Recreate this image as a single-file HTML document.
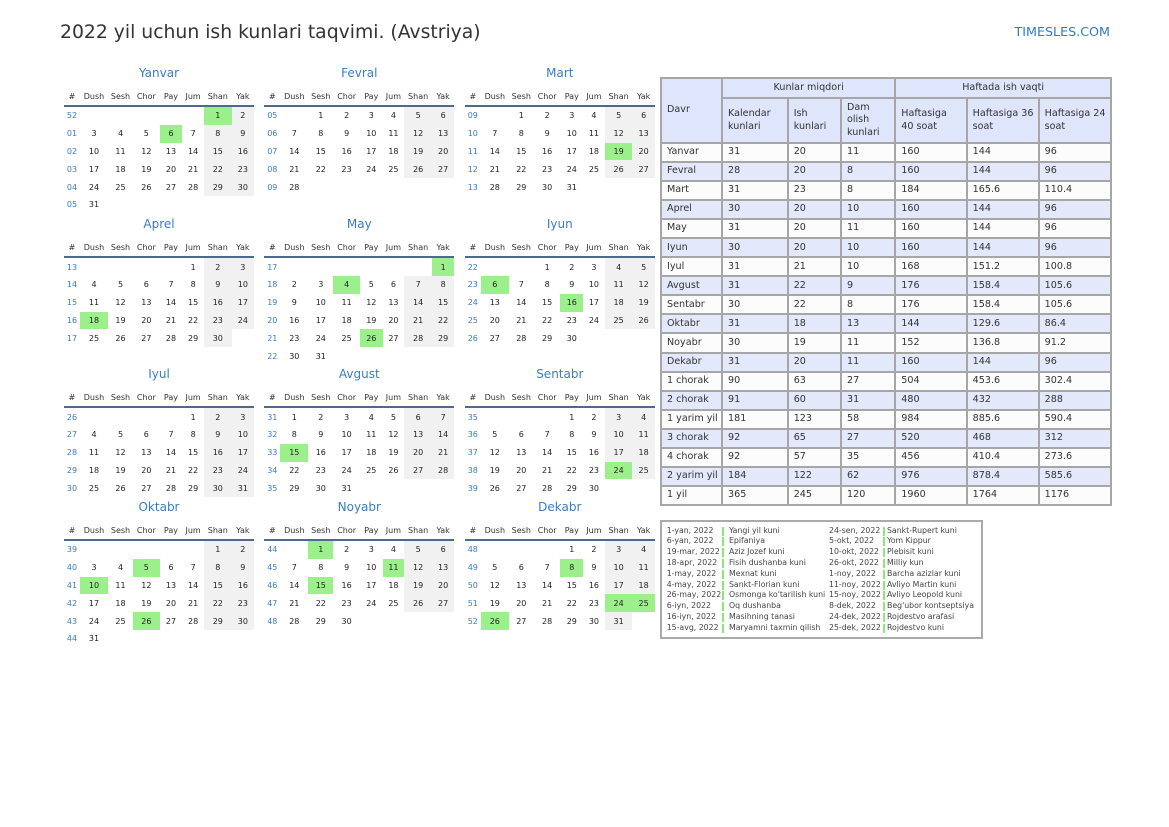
<!DOCTYPE html>
<html><head><meta charset="utf-8">
<style>
*{margin:0;padding:0;box-sizing:border-box}
html,body{width:1169px;height:827px;background:#fff;overflow:hidden}
body{position:relative;font-family:"DejaVu Sans","Liberation Sans",sans-serif;color:#333}
.title{position:absolute;left:60px;top:22px;font-size:18.8px;line-height:22px;color:#333;white-space:nowrap}
.brand{position:absolute;right:59px;top:24px;font-size:12.7px;line-height:15px;color:#2f7ac9;white-space:nowrap}
.m{position:absolute;width:190px}
.m .t{height:20px;line-height:20px;text-align:center;font-size:12px;color:#3a7cc6;margin-bottom:5px}
.m table{border-collapse:separate;border-spacing:0;table-layout:fixed;width:190px}
.m th{height:19px;font-size:8px;font-weight:normal;color:#333;border-bottom:2px solid #4b6991;padding:0;text-align:center;vertical-align:middle;white-space:nowrap}
.m tbody tr{height:17.8px}
.m td{padding:0;font-size:8px;text-align:center;vertical-align:middle;color:#222}
.m td.w{color:#3a7cc6}
.m td.s{background:#f1f1f1}
.m td.h{background:#9bf08c}
.dt{position:absolute;left:660px;top:77px;width:450px;border-collapse:collapse;table-layout:fixed;font-size:9.6px;color:#333}
.dt td,.dt th{border:2px solid #a6a6a6;padding:0 0 0 5px;text-align:left;vertical-align:middle;font-weight:normal;line-height:12.5px;white-space:nowrap}
.dt th{background:#dfe5fb}
.dt th.c{text-align:center;padding:0}
.dt tr.b td{background:#e3e8fb}
.dt tr.a td{background:#fcfcfc}
.dt tbody tr{height:19.05px}
.hol{position:absolute;left:660px;top:520px;width:323px;height:119px;border:2px solid #aaa}
.hl{position:absolute;left:666.7px;top:525.6px;width:310px;font-size:7.8px;color:#444}
.hl .r{position:relative;height:10.8px;line-height:10.8px;white-space:nowrap}
.hl .r span{position:absolute;top:0}
.hl .d1{left:0}.hl .n1{left:62.3px}.hl .d2{left:162.3px}.hl .n2{left:220.3px}
.hl .b1,.hl .b2{top:1px !important;width:2px;height:9px;background:#8be87b}
.hl .b1{left:55px}.hl .b2{left:216px}
</style></head><body>
<div class="title">2022 yil uchun ish kunlari taqvimi. (Avstriya)</div>
<div class="brand">TIMESLES.COM</div>

<!-- Row 1 -->
<div class="m" style="left:64px;top:63px"><div class="t">Yanvar</div><table><colgroup><col style="width:16px"><col style="width:28px"><col style="width:25px"><col style="width:26.7px"><col style="width:22.6px"><col style="width:21.7px"><col style="width:27.7px"><col style="width:22.3px"></colgroup>
<thead><tr><th>#</th><th>Dush</th><th>Sesh</th><th>Chor</th><th>Pay</th><th>Jum</th><th>Shan</th><th>Yak</th></tr></thead><tbody>
<tr><td class="w">52</td><td></td><td></td><td></td><td></td><td></td><td class="h">1</td><td class="s">2</td></tr>
<tr><td class="w">01</td><td>3</td><td>4</td><td>5</td><td class="h">6</td><td>7</td><td class="s">8</td><td class="s">9</td></tr>
<tr><td class="w">02</td><td>10</td><td>11</td><td>12</td><td>13</td><td>14</td><td class="s">15</td><td class="s">16</td></tr>
<tr><td class="w">03</td><td>17</td><td>18</td><td>19</td><td>20</td><td>21</td><td class="s">22</td><td class="s">23</td></tr>
<tr><td class="w">04</td><td>24</td><td>25</td><td>26</td><td>27</td><td>28</td><td class="s">29</td><td class="s">30</td></tr>
<tr><td class="w">05</td><td>31</td><td></td><td></td><td></td><td></td><td></td><td></td></tr>
</tbody></table></div>

<div class="m" style="left:264.3px;top:63px"><div class="t">Fevral</div><table><colgroup><col style="width:16px"><col style="width:28px"><col style="width:25px"><col style="width:26.7px"><col style="width:22.6px"><col style="width:21.7px"><col style="width:27.7px"><col style="width:22.3px"></colgroup>
<thead><tr><th>#</th><th>Dush</th><th>Sesh</th><th>Chor</th><th>Pay</th><th>Jum</th><th>Shan</th><th>Yak</th></tr></thead><tbody>
<tr><td class="w">05</td><td></td><td>1</td><td>2</td><td>3</td><td>4</td><td class="s">5</td><td class="s">6</td></tr>
<tr><td class="w">06</td><td>7</td><td>8</td><td>9</td><td>10</td><td>11</td><td class="s">12</td><td class="s">13</td></tr>
<tr><td class="w">07</td><td>14</td><td>15</td><td>16</td><td>17</td><td>18</td><td class="s">19</td><td class="s">20</td></tr>
<tr><td class="w">08</td><td>21</td><td>22</td><td>23</td><td>24</td><td>25</td><td class="s">26</td><td class="s">27</td></tr>
<tr><td class="w">09</td><td>28</td><td></td><td></td><td></td><td></td><td></td><td></td></tr>
</tbody></table></div>

<div class="m" style="left:464.8px;top:63px"><div class="t">Mart</div><table><colgroup><col style="width:16px"><col style="width:28px"><col style="width:25px"><col style="width:26.7px"><col style="width:22.6px"><col style="width:21.7px"><col style="width:27.7px"><col style="width:22.3px"></colgroup>
<thead><tr><th>#</th><th>Dush</th><th>Sesh</th><th>Chor</th><th>Pay</th><th>Jum</th><th>Shan</th><th>Yak</th></tr></thead><tbody>
<tr><td class="w">09</td><td></td><td>1</td><td>2</td><td>3</td><td>4</td><td class="s">5</td><td class="s">6</td></tr>
<tr><td class="w">10</td><td>7</td><td>8</td><td>9</td><td>10</td><td>11</td><td class="s">12</td><td class="s">13</td></tr>
<tr><td class="w">11</td><td>14</td><td>15</td><td>16</td><td>17</td><td>18</td><td class="h">19</td><td class="s">20</td></tr>
<tr><td class="w">12</td><td>21</td><td>22</td><td>23</td><td>24</td><td>25</td><td class="s">26</td><td class="s">27</td></tr>
<tr><td class="w">13</td><td>28</td><td>29</td><td>30</td><td>31</td><td></td><td></td><td></td></tr>
</tbody></table></div>

<!-- Row 2 -->
<div class="m" style="left:64px;top:214.3px"><div class="t">Aprel</div><table><colgroup><col style="width:16px"><col style="width:28px"><col style="width:25px"><col style="width:26.7px"><col style="width:22.6px"><col style="width:21.7px"><col style="width:27.7px"><col style="width:22.3px"></colgroup>
<thead><tr><th>#</th><th>Dush</th><th>Sesh</th><th>Chor</th><th>Pay</th><th>Jum</th><th>Shan</th><th>Yak</th></tr></thead><tbody>
<tr><td class="w">13</td><td></td><td></td><td></td><td></td><td>1</td><td class="s">2</td><td class="s">3</td></tr>
<tr><td class="w">14</td><td>4</td><td>5</td><td>6</td><td>7</td><td>8</td><td class="s">9</td><td class="s">10</td></tr>
<tr><td class="w">15</td><td>11</td><td>12</td><td>13</td><td>14</td><td>15</td><td class="s">16</td><td class="s">17</td></tr>
<tr><td class="w">16</td><td class="h">18</td><td>19</td><td>20</td><td>21</td><td>22</td><td class="s">23</td><td class="s">24</td></tr>
<tr><td class="w">17</td><td>25</td><td>26</td><td>27</td><td>28</td><td>29</td><td class="s">30</td><td></td></tr>
</tbody></table></div>

<div class="m" style="left:264.3px;top:214.3px"><div class="t">May</div><table><colgroup><col style="width:16px"><col style="width:28px"><col style="width:25px"><col style="width:26.7px"><col style="width:22.6px"><col style="width:21.7px"><col style="width:27.7px"><col style="width:22.3px"></colgroup>
<thead><tr><th>#</th><th>Dush</th><th>Sesh</th><th>Chor</th><th>Pay</th><th>Jum</th><th>Shan</th><th>Yak</th></tr></thead><tbody>
<tr><td class="w">17</td><td></td><td></td><td></td><td></td><td></td><td></td><td class="h">1</td></tr>
<tr><td class="w">18</td><td>2</td><td>3</td><td class="h">4</td><td>5</td><td>6</td><td class="s">7</td><td class="s">8</td></tr>
<tr><td class="w">19</td><td>9</td><td>10</td><td>11</td><td>12</td><td>13</td><td class="s">14</td><td class="s">15</td></tr>
<tr><td class="w">20</td><td>16</td><td>17</td><td>18</td><td>19</td><td>20</td><td class="s">21</td><td class="s">22</td></tr>
<tr><td class="w">21</td><td>23</td><td>24</td><td>25</td><td class="h">26</td><td>27</td><td class="s">28</td><td class="s">29</td></tr>
<tr><td class="w">22</td><td>30</td><td>31</td><td></td><td></td><td></td><td></td><td></td></tr>
</tbody></table></div>

<div class="m" style="left:464.8px;top:214.3px"><div class="t">Iyun</div><table><colgroup><col style="width:16px"><col style="width:28px"><col style="width:25px"><col style="width:26.7px"><col style="width:22.6px"><col style="width:21.7px"><col style="width:27.7px"><col style="width:22.3px"></colgroup>
<thead><tr><th>#</th><th>Dush</th><th>Sesh</th><th>Chor</th><th>Pay</th><th>Jum</th><th>Shan</th><th>Yak</th></tr></thead><tbody>
<tr><td class="w">22</td><td></td><td></td><td>1</td><td>2</td><td>3</td><td class="s">4</td><td class="s">5</td></tr>
<tr><td class="w">23</td><td class="h">6</td><td>7</td><td>8</td><td>9</td><td>10</td><td class="s">11</td><td class="s">12</td></tr>
<tr><td class="w">24</td><td>13</td><td>14</td><td>15</td><td class="h">16</td><td>17</td><td class="s">18</td><td class="s">19</td></tr>
<tr><td class="w">25</td><td>20</td><td>21</td><td>22</td><td>23</td><td>24</td><td class="s">25</td><td class="s">26</td></tr>
<tr><td class="w">26</td><td>27</td><td>28</td><td>29</td><td>30</td><td></td><td></td><td></td></tr>
</tbody></table></div>

<!-- Row 3 -->
<div class="m" style="left:64px;top:364.3px"><div class="t">Iyul</div><table><colgroup><col style="width:16px"><col style="width:28px"><col style="width:25px"><col style="width:26.7px"><col style="width:22.6px"><col style="width:21.7px"><col style="width:27.7px"><col style="width:22.3px"></colgroup>
<thead><tr><th>#</th><th>Dush</th><th>Sesh</th><th>Chor</th><th>Pay</th><th>Jum</th><th>Shan</th><th>Yak</th></tr></thead><tbody>
<tr><td class="w">26</td><td></td><td></td><td></td><td></td><td>1</td><td class="s">2</td><td class="s">3</td></tr>
<tr><td class="w">27</td><td>4</td><td>5</td><td>6</td><td>7</td><td>8</td><td class="s">9</td><td class="s">10</td></tr>
<tr><td class="w">28</td><td>11</td><td>12</td><td>13</td><td>14</td><td>15</td><td class="s">16</td><td class="s">17</td></tr>
<tr><td class="w">29</td><td>18</td><td>19</td><td>20</td><td>21</td><td>22</td><td class="s">23</td><td class="s">24</td></tr>
<tr><td class="w">30</td><td>25</td><td>26</td><td>27</td><td>28</td><td>29</td><td class="s">30</td><td class="s">31</td></tr>
</tbody></table></div>

<div class="m" style="left:264.3px;top:364.3px"><div class="t">Avgust</div><table><colgroup><col style="width:16px"><col style="width:28px"><col style="width:25px"><col style="width:26.7px"><col style="width:22.6px"><col style="width:21.7px"><col style="width:27.7px"><col style="width:22.3px"></colgroup>
<thead><tr><th>#</th><th>Dush</th><th>Sesh</th><th>Chor</th><th>Pay</th><th>Jum</th><th>Shan</th><th>Yak</th></tr></thead><tbody>
<tr><td class="w">31</td><td>1</td><td>2</td><td>3</td><td>4</td><td>5</td><td class="s">6</td><td class="s">7</td></tr>
<tr><td class="w">32</td><td>8</td><td>9</td><td>10</td><td>11</td><td>12</td><td class="s">13</td><td class="s">14</td></tr>
<tr><td class="w">33</td><td class="h">15</td><td>16</td><td>17</td><td>18</td><td>19</td><td class="s">20</td><td class="s">21</td></tr>
<tr><td class="w">34</td><td>22</td><td>23</td><td>24</td><td>25</td><td>26</td><td class="s">27</td><td class="s">28</td></tr>
<tr><td class="w">35</td><td>29</td><td>30</td><td>31</td><td></td><td></td><td></td><td></td></tr>
</tbody></table></div>

<div class="m" style="left:464.8px;top:364.3px"><div class="t">Sentabr</div><table><colgroup><col style="width:16px"><col style="width:28px"><col style="width:25px"><col style="width:26.7px"><col style="width:22.6px"><col style="width:21.7px"><col style="width:27.7px"><col style="width:22.3px"></colgroup>
<thead><tr><th>#</th><th>Dush</th><th>Sesh</th><th>Chor</th><th>Pay</th><th>Jum</th><th>Shan</th><th>Yak</th></tr></thead><tbody>
<tr><td class="w">35</td><td></td><td></td><td></td><td>1</td><td>2</td><td class="s">3</td><td class="s">4</td></tr>
<tr><td class="w">36</td><td>5</td><td>6</td><td>7</td><td>8</td><td>9</td><td class="s">10</td><td class="s">11</td></tr>
<tr><td class="w">37</td><td>12</td><td>13</td><td>14</td><td>15</td><td>16</td><td class="s">17</td><td class="s">18</td></tr>
<tr><td class="w">38</td><td>19</td><td>20</td><td>21</td><td>22</td><td>23</td><td class="h">24</td><td class="s">25</td></tr>
<tr><td class="w">39</td><td>26</td><td>27</td><td>28</td><td>29</td><td>30</td><td></td><td></td></tr>
</tbody></table></div>

<!-- Row 4 -->
<div class="m" style="left:64px;top:497px"><div class="t">Oktabr</div><table><colgroup><col style="width:16px"><col style="width:28px"><col style="width:25px"><col style="width:26.7px"><col style="width:22.6px"><col style="width:21.7px"><col style="width:27.7px"><col style="width:22.3px"></colgroup>
<thead><tr><th>#</th><th>Dush</th><th>Sesh</th><th>Chor</th><th>Pay</th><th>Jum</th><th>Shan</th><th>Yak</th></tr></thead><tbody>
<tr><td class="w">39</td><td></td><td></td><td></td><td></td><td></td><td class="s">1</td><td class="s">2</td></tr>
<tr><td class="w">40</td><td>3</td><td>4</td><td class="h">5</td><td>6</td><td>7</td><td class="s">8</td><td class="s">9</td></tr>
<tr><td class="w">41</td><td class="h">10</td><td>11</td><td>12</td><td>13</td><td>14</td><td class="s">15</td><td class="s">16</td></tr>
<tr><td class="w">42</td><td>17</td><td>18</td><td>19</td><td>20</td><td>21</td><td class="s">22</td><td class="s">23</td></tr>
<tr><td class="w">43</td><td>24</td><td>25</td><td class="h">26</td><td>27</td><td>28</td><td class="s">29</td><td class="s">30</td></tr>
<tr><td class="w">44</td><td>31</td><td></td><td></td><td></td><td></td><td></td><td></td></tr>
</tbody></table></div>

<div class="m" style="left:264.3px;top:497px"><div class="t">Noyabr</div><table><colgroup><col style="width:16px"><col style="width:28px"><col style="width:25px"><col style="width:26.7px"><col style="width:22.6px"><col style="width:21.7px"><col style="width:27.7px"><col style="width:22.3px"></colgroup>
<thead><tr><th>#</th><th>Dush</th><th>Sesh</th><th>Chor</th><th>Pay</th><th>Jum</th><th>Shan</th><th>Yak</th></tr></thead><tbody>
<tr><td class="w">44</td><td></td><td class="h">1</td><td>2</td><td>3</td><td>4</td><td class="s">5</td><td class="s">6</td></tr>
<tr><td class="w">45</td><td>7</td><td>8</td><td>9</td><td>10</td><td class="h">11</td><td class="s">12</td><td class="s">13</td></tr>
<tr><td class="w">46</td><td>14</td><td class="h">15</td><td>16</td><td>17</td><td>18</td><td class="s">19</td><td class="s">20</td></tr>
<tr><td class="w">47</td><td>21</td><td>22</td><td>23</td><td>24</td><td>25</td><td class="s">26</td><td class="s">27</td></tr>
<tr><td class="w">48</td><td>28</td><td>29</td><td>30</td><td></td><td></td><td></td><td></td></tr>
</tbody></table></div>

<div class="m" style="left:464.8px;top:497px"><div class="t">Dekabr</div><table><colgroup><col style="width:16px"><col style="width:28px"><col style="width:25px"><col style="width:26.7px"><col style="width:22.6px"><col style="width:21.7px"><col style="width:27.7px"><col style="width:22.3px"></colgroup>
<thead><tr><th>#</th><th>Dush</th><th>Sesh</th><th>Chor</th><th>Pay</th><th>Jum</th><th>Shan</th><th>Yak</th></tr></thead><tbody>
<tr><td class="w">48</td><td></td><td></td><td></td><td>1</td><td>2</td><td class="s">3</td><td class="s">4</td></tr>
<tr><td class="w">49</td><td>5</td><td>6</td><td>7</td><td class="h">8</td><td>9</td><td class="s">10</td><td class="s">11</td></tr>
<tr><td class="w">50</td><td>12</td><td>13</td><td>14</td><td>15</td><td>16</td><td class="s">17</td><td class="s">18</td></tr>
<tr><td class="w">51</td><td>19</td><td>20</td><td>21</td><td>22</td><td>23</td><td class="h">24</td><td class="h">25</td></tr>
<tr><td class="w">52</td><td class="h">26</td><td>27</td><td>28</td><td>29</td><td>30</td><td class="s">31</td><td></td></tr>
</tbody></table></div>

<!-- Data table -->
<table class="dt">
<colgroup><col style="width:61px"><col style="width:65.7px"><col style="width:53.3px"><col style="width:54.3px"><col style="width:71.4px"><col style="width:72px"><col style="width:72.3px"></colgroup>
<thead>
<tr style="height:20px"><th rowspan="2">Davr</th><th class="c" colspan="3">Kunlar miqdori</th><th class="c" colspan="3">Haftada ish vaqti</th></tr>
<tr style="height:45px"><th>Kalendar<br>kunlari</th><th>Ish<br>kunlari</th><th>Dam<br>olish<br>kunlari</th><th>Haftasiga<br>40 soat</th><th>Haftasiga 36<br>soat</th><th>Haftasiga 24<br>soat</th></tr>
</thead>
<tbody>
<tr class="a"><td>Yanvar</td><td>31</td><td>20</td><td>11</td><td>160</td><td>144</td><td>96</td></tr>
<tr class="b"><td>Fevral</td><td>28</td><td>20</td><td>8</td><td>160</td><td>144</td><td>96</td></tr>
<tr class="a"><td>Mart</td><td>31</td><td>23</td><td>8</td><td>184</td><td>165.6</td><td>110.4</td></tr>
<tr class="b"><td>Aprel</td><td>30</td><td>20</td><td>10</td><td>160</td><td>144</td><td>96</td></tr>
<tr class="a"><td>May</td><td>31</td><td>20</td><td>11</td><td>160</td><td>144</td><td>96</td></tr>
<tr class="b"><td>Iyun</td><td>30</td><td>20</td><td>10</td><td>160</td><td>144</td><td>96</td></tr>
<tr class="a"><td>Iyul</td><td>31</td><td>21</td><td>10</td><td>168</td><td>151.2</td><td>100.8</td></tr>
<tr class="b"><td>Avgust</td><td>31</td><td>22</td><td>9</td><td>176</td><td>158.4</td><td>105.6</td></tr>
<tr class="a"><td>Sentabr</td><td>30</td><td>22</td><td>8</td><td>176</td><td>158.4</td><td>105.6</td></tr>
<tr class="b"><td>Oktabr</td><td>31</td><td>18</td><td>13</td><td>144</td><td>129.6</td><td>86.4</td></tr>
<tr class="a"><td>Noyabr</td><td>30</td><td>19</td><td>11</td><td>152</td><td>136.8</td><td>91.2</td></tr>
<tr class="b"><td>Dekabr</td><td>31</td><td>20</td><td>11</td><td>160</td><td>144</td><td>96</td></tr>
<tr class="a"><td>1 chorak</td><td>90</td><td>63</td><td>27</td><td>504</td><td>453.6</td><td>302.4</td></tr>
<tr class="b"><td>2 chorak</td><td>91</td><td>60</td><td>31</td><td>480</td><td>432</td><td>288</td></tr>
<tr class="a"><td>1 yarim yil</td><td>181</td><td>123</td><td>58</td><td>984</td><td>885.6</td><td>590.4</td></tr>
<tr class="b"><td>3 chorak</td><td>92</td><td>65</td><td>27</td><td>520</td><td>468</td><td>312</td></tr>
<tr class="a"><td>4 chorak</td><td>92</td><td>57</td><td>35</td><td>456</td><td>410.4</td><td>273.6</td></tr>
<tr class="b"><td>2 yarim yil</td><td>184</td><td>122</td><td>62</td><td>976</td><td>878.4</td><td>585.6</td></tr>
<tr class="a"><td>1 yil</td><td>365</td><td>245</td><td>120</td><td>1960</td><td>1764</td><td>1176</td></tr>
</tbody>
</table>

<!-- Holidays -->
<div class="hol"></div>
<div class="hl">
<div class="r"><span class="d1">1-yan, 2022</span><span class="b1"></span><span class="n1">Yangi yil kuni</span><span class="d2">24-sen, 2022</span><span class="b2"></span><span class="n2">Sankt-Rupert kuni</span></div>
<div class="r"><span class="d1">6-yan, 2022</span><span class="b1"></span><span class="n1">Epifaniya</span><span class="d2">5-okt, 2022</span><span class="b2"></span><span class="n2">Yom Kippur</span></div>
<div class="r"><span class="d1">19-mar, 2022</span><span class="b1"></span><span class="n1">Aziz Jozef kuni</span><span class="d2">10-okt, 2022</span><span class="b2"></span><span class="n2">Plebisit kuni</span></div>
<div class="r"><span class="d1">18-apr, 2022</span><span class="b1"></span><span class="n1">Fisih dushanba kuni</span><span class="d2">26-okt, 2022</span><span class="b2"></span><span class="n2">Milliy kun</span></div>
<div class="r"><span class="d1">1-may, 2022</span><span class="b1"></span><span class="n1">Mexnat kuni</span><span class="d2">1-noy, 2022</span><span class="b2"></span><span class="n2">Barcha azizlar kuni</span></div>
<div class="r"><span class="d1">4-may, 2022</span><span class="b1"></span><span class="n1">Sankt-Florian kuni</span><span class="d2">11-noy, 2022</span><span class="b2"></span><span class="n2">Avliyo Martin kuni</span></div>
<div class="r"><span class="d1">26-may, 2022</span><span class="b1"></span><span class="n1">Osmonga ko'tarilish kuni</span><span class="d2">15-noy, 2022</span><span class="b2"></span><span class="n2">Avliyo Leopold kuni</span></div>
<div class="r"><span class="d1">6-iyn, 2022</span><span class="b1"></span><span class="n1">Oq dushanba</span><span class="d2">8-dek, 2022</span><span class="b2"></span><span class="n2">Beg'ubor kontseptsiya</span></div>
<div class="r"><span class="d1">16-iyn, 2022</span><span class="b1"></span><span class="n1">Masihning tanasi</span><span class="d2">24-dek, 2022</span><span class="b2"></span><span class="n2">Rojdestvo arafasi</span></div>
<div class="r"><span class="d1">15-avg, 2022</span><span class="b1"></span><span class="n1">Maryamni taxmin qilish</span><span class="d2">25-dek, 2022</span><span class="b2"></span><span class="n2">Rojdestvo kuni</span></div>
</div>
</body></html>
